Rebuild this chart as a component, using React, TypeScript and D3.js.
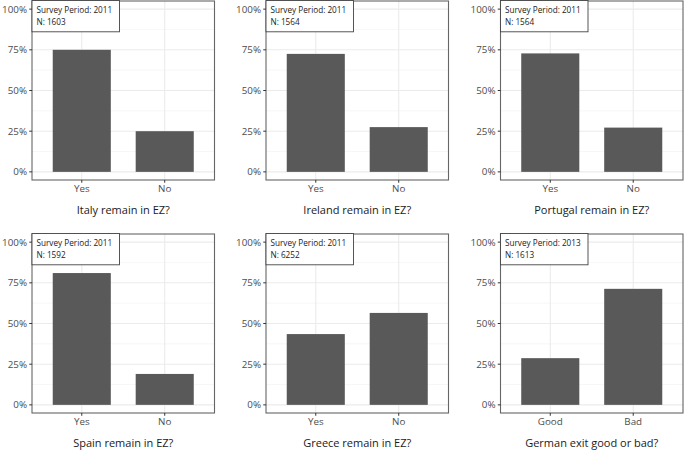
import React from "react";
import * as d3 from "d3";

const panelTitles = [
  "Italy remain in EZ?",
  "Ireland remain in EZ?",
  "Portugal remain in EZ?",
  "Spain remain in EZ?",
  "Greece remain in EZ?",
  "German exit good or bad?",
];
const panelCategories = [
  ["Yes", "No"],
  ["Yes", "No"],
  ["Yes", "No"],
  ["Yes", "No"],
  ["Yes", "No"],
  ["Good", "Bad"],
];
const firstShares = [0.75, 0.725, 0.728, 0.81, 0.435, 0.287];
const secondShares = [0.25, 0.275, 0.272, 0.19, 0.565, 0.713];
const surveyPeriods = [2011, 2011, 2011, 2011, 2011, 2013];
const sampleSizes = [1603, 1564, 1564, 1592, 6252, 1613];
const yTicks = [0, 0.25, 0.5, 0.75, 1];
const yMinorTicks = [0.125, 0.375, 0.625, 0.875];

const W = 685;
const H = 451;
const colLeft = [32, 266, 500.5];
const rowTop = [1, 234];
const panelW = 182.5;
const panelH = 179;
const FONT = "'Open Sans', 'DejaVu Sans', sans-serif";

function Panel({ i }: { i: number }) {
  const left = colLeft[i % 3];
  const top = rowTop[Math.floor(i / 3)];
  const cats = panelCategories[i];
  const vals = [firstShares[i], secondShares[i]];
  const y = d3.scaleLinear().domain([-0.05, 1.05]).range([top + panelH, top]);
  const x = d3.scalePoint<string>().domain(cats).range([left, left + panelW]).padding(0.6);
  const step = x.step();
  const bw = step * 0.7;
  const fmt = d3.format(".0%");
  return (
    <g>
      <rect x={left} y={top} width={panelW} height={panelH} fill="#fff" />
      {yMinorTicks.map((t) => (
        <line key={"mn" + t} x1={left} x2={left + panelW} y1={y(t)} y2={y(t)} stroke="#f2f2f2" strokeWidth={0.6} />
      ))}
      {yTicks.map((t) => (
        <line key={"mj" + t} x1={left} x2={left + panelW} y1={y(t)} y2={y(t)} stroke="#ebebeb" strokeWidth={1.1} />
      ))}
      {cats.map((c) => (
        <line key={"vx" + c} x1={x(c)} x2={x(c)} y1={top} y2={top + panelH} stroke="#ebebeb" strokeWidth={1.1} />
      ))}
      {cats.map((c, j) => (
        <rect
          key={"b" + c}
          x={(x(c) as number) - bw / 2}
          y={y(vals[j])}
          width={bw}
          height={y(0) - y(vals[j])}
          fill="#595959"
        />
      ))}
      <rect x={left} y={top} width={panelW} height={panelH} fill="none" stroke="#333" strokeWidth={1.1} opacity={0.75} />
      {yTicks.map((t) => (
        <g key={"yt" + t}>
          <line x1={left - 2.75} x2={left} y1={y(t)} y2={y(t)} stroke="#333" strokeWidth={1} />
          <text x={left - 5} y={y(t)} dy="0.35em" textAnchor="end" fontSize={9.8} fill="#4d4d4d" fontFamily={FONT}>
            {fmt(t)}
          </text>
        </g>
      ))}
      {cats.map((c) => (
        <g key={"xt" + c}>
          <line x1={x(c)} x2={x(c)} y1={top + panelH} y2={top + panelH + 2.75} stroke="#333" strokeWidth={1} />
          <text x={x(c)} y={top + panelH + 12} textAnchor="middle" fontSize={9.8} fill="#4d4d4d" fontFamily={FONT}>
            {c}
          </text>
        </g>
      ))}
      <text x={left + panelW / 2} y={top + panelH + 34} textAnchor="middle" fontSize={11} fill="#1a1a1a" fontFamily={FONT}>
        {panelTitles[i]}
      </text>
      <rect x={left} y={top - 0.5} width={87.5} height={31.3} fill="#fff" stroke="#444" strokeWidth={0.9} />
      <text x={left + 4.5} y={top + 11.5} fontSize={8.2} fill="#1a1a1a" fontFamily={FONT}>
        {"Survey Period: " + surveyPeriods[i]}
      </text>
      <text x={left + 4.5} y={top + 24} fontSize={8.2} fill="#1a1a1a" fontFamily={FONT}>
        {"N: " + sampleSizes[i]}
      </text>
    </g>
  );
}

export default function App() {
  return (
    <div style={{ position: "fixed", left: 0, top: 0 }}>
      <svg width={W} height={H} viewBox={`0 0 ${W} ${H}`} style={{ display: "block", background: "#fff" }}>
        <rect width={W} height={H} fill="#fff" />
        {panelTitles.map((_, i) => (
          <Panel key={i} i={i} />
        ))}
      </svg>
    </div>
  );
}
